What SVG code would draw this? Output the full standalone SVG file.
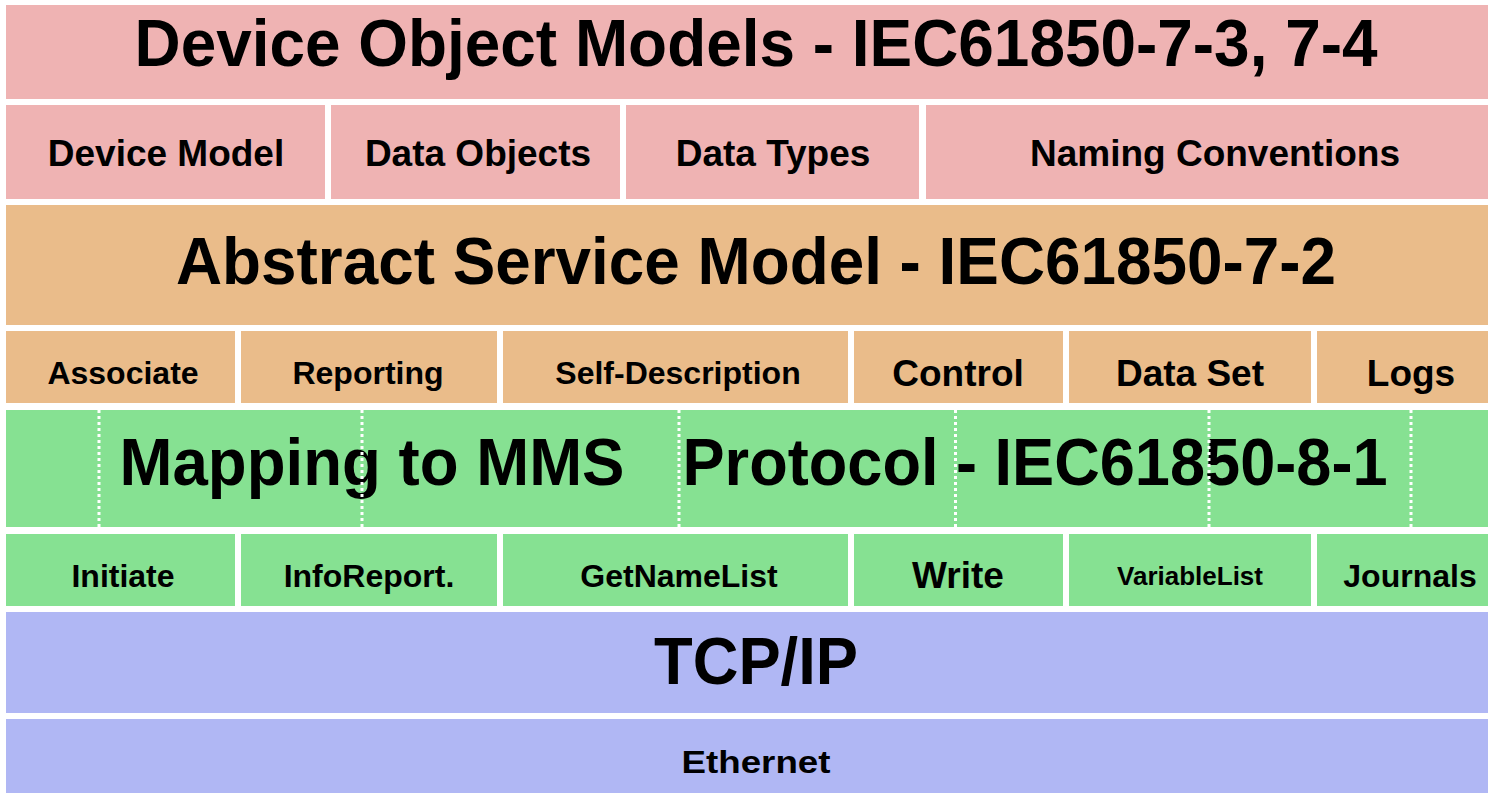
<svg xmlns="http://www.w3.org/2000/svg" width="1488" height="793" viewBox="0 0 1488 793">
  <style>
    text { font-family: "Liberation Sans", Arial, sans-serif; font-weight: bold; fill: #000; text-anchor: middle; }
    .pink { fill: #EFB3B3; }
    .orange { fill: #EABC8A; }
    .green { fill: #86E192; }
    .blue { fill: #B0B7F4; }
    .big { font-size: 66px; }
    .mid { font-size: 37px; }
    .sm { font-size: 32px; }
    .xs { font-size: 26px; }
    .div { stroke: #FFFFFF; stroke-width: 3; stroke-dasharray: 3 3; fill: none; }
  </style>
  <rect x="0" y="0" width="1488" height="793" fill="#FFFFFF"/>

  <g id="device-object-models">
    <rect class="pink" x="6" y="5" width="1482" height="94"/>
    <text class="big" x="756" y="66" textLength="1243" lengthAdjust="spacingAndGlyphs">Device Object Models - IEC61850-7-3, 7-4</text>
  </g>
  <g id="device-model">
    <rect class="pink" x="6" y="105" width="319" height="94"/>
    <text class="mid" x="166" y="166">Device Model</text>
  </g>
  <g id="data-objects">
    <rect class="pink" x="331" y="105" width="289" height="94"/>
    <text class="mid" x="478" y="166">Data Objects</text>
  </g>
  <g id="data-types">
    <rect class="pink" x="626" y="105" width="293" height="94"/>
    <text class="mid" x="773" y="166">Data Types</text>
  </g>
  <g id="naming-conventions">
    <rect class="pink" x="926" y="105" width="562" height="94"/>
    <text class="mid" x="1215" y="166">Naming Conventions</text>
  </g>

  <g id="abstract-service-model">
    <rect class="orange" x="6" y="205" width="1482" height="120"/>
    <text class="big" x="756" y="284" textLength="1160" lengthAdjust="spacingAndGlyphs">Abstract Service Model - IEC61850-7-2</text>
  </g>
  <g id="associate">
    <rect class="orange" x="6" y="331" width="229" height="72"/>
    <text class="sm" x="123" y="384">Associate</text>
  </g>
  <g id="reporting">
    <rect class="orange" x="241" y="331" width="256" height="72"/>
    <text class="sm" x="368" y="384">Reporting</text>
  </g>
  <g id="self-description">
    <rect class="orange" x="503" y="331" width="345" height="72"/>
    <text class="sm" x="678" y="384">Self-Description</text>
  </g>
  <g id="control">
    <rect class="orange" x="854" y="331" width="209" height="72"/>
    <text class="mid" x="958" y="386">Control</text>
  </g>
  <g id="data-set">
    <rect class="orange" x="1069" y="331" width="242" height="72"/>
    <text class="mid" x="1190" y="386">Data Set</text>
  </g>
  <g id="logs">
    <rect class="orange" x="1317" y="331" width="171" height="72"/>
    <text class="mid" x="1411" y="386">Logs</text>
  </g>

  <g id="mapping-to-mms">
    <rect class="green" x="6" y="410" width="1482" height="117"/>
    <text class="big" x="372" y="485" textLength="505" lengthAdjust="spacingAndGlyphs">Mapping to MMS</text>
    <text class="big" x="1035" y="485" textLength="705" lengthAdjust="spacingAndGlyphs">Protocol - IEC61850-8-1</text>
  </g>
  <g id="dividers">
    <line class="div" x1="99" y1="410" x2="99" y2="527"/>
    <line class="div" x1="362" y1="410" x2="362" y2="527"/>
    <line class="div" x1="679" y1="410" x2="679" y2="527"/>
    <line class="div" x1="955.5" y1="410" x2="955.5" y2="527"/>
    <line class="div" x1="1209" y1="410" x2="1209" y2="527"/>
    <line class="div" x1="1411" y1="410" x2="1411" y2="527"/>
  </g>
  <g id="initiate">
    <rect class="green" x="6" y="534" width="229" height="72"/>
    <text class="sm" x="123" y="587">Initiate</text>
  </g>
  <g id="inforeport">
    <rect class="green" x="241" y="534" width="256" height="72"/>
    <text class="sm" x="369" y="587">InfoReport.</text>
  </g>
  <g id="getnamelist">
    <rect class="green" x="503" y="534" width="345" height="72"/>
    <text class="sm" x="679" y="587">GetNameList</text>
  </g>
  <g id="write">
    <rect class="green" x="854" y="534" width="209" height="72"/>
    <text class="mid" x="958" y="588">Write</text>
  </g>
  <g id="variablelist">
    <rect class="green" x="1069" y="534" width="242" height="72"/>
    <text class="xs" x="1190" y="585">VariableList</text>
  </g>
  <g id="journals">
    <rect class="green" x="1317" y="534" width="171" height="72"/>
    <text class="sm" x="1410" y="587">Journals</text>
  </g>

  <g id="tcp-ip">
    <rect class="blue" x="6" y="612" width="1482" height="101"/>
    <text class="big" x="756" y="684" textLength="204" lengthAdjust="spacingAndGlyphs">TCP/IP</text>
  </g>
  <g id="ethernet">
    <rect class="blue" x="6" y="719" width="1482" height="74"/>
    <text class="sm" x="756" y="773" textLength="149" lengthAdjust="spacingAndGlyphs">Ethernet</text>
  </g>
</svg>
